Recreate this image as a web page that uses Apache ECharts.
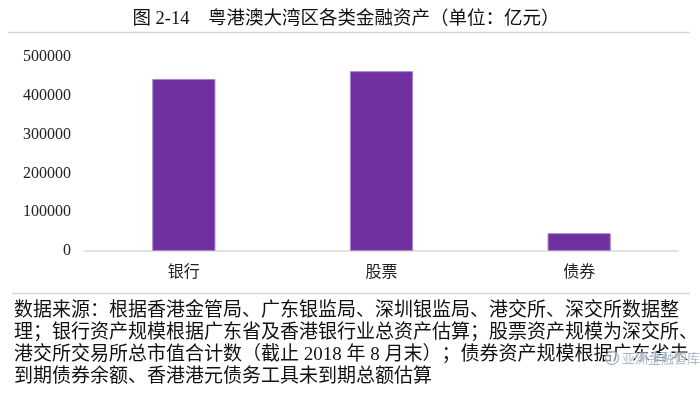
<!DOCTYPE html>
<html><head><meta charset="utf-8">
<script src="https://cdn.jsdelivr.net/npm/echarts@6/dist/echarts.min.js"></script>
<style>html,body{margin:0;padding:0;background:#fff}#c{width:700px;height:400px}</style>
</head><body><div id="c"></div>
<script>
var categories = ['银行', '股票', '债券'];
var values = [444000, 464000, 46000];
var yTicks = [0, 100000, 200000, 300000, 400000, 500000];
var titleText = '图 2-14\u3000粤港澳大湾区各类金融资产（单位：亿元）';
var footerLines = [
  '数据来源：根据香港金管局、广东银监局、深圳银监局、港交所、深交所数据整',
  '理；银行资产规模根据广东省及香港银行业总资产估算；股票资产规模为深交所、',
  '港交所交易所总市值合计数（截止 2018 年 8 月末）；债券资产规模根据广东省未',
  '到期债券余额、香港港元债务工具未到期总额估算'
];
var watermark = '亚洲金融智库';

var FONT = '"Times New Roman", "Liberation Serif", "Noto Sans CJK SC", serif';
var chart = echarts.init(document.getElementById('c'), null, {renderer: 'canvas'});
var graphics = [
  {type: 'text', x: 346, y: 19, style: {text: titleText, font: '18.5px ' + FONT, fill: '#111', align: 'center', verticalAlign: 'middle'}},
  {type: 'line', shape: {x1: 8, y1: 32.5, x2: 690, y2: 32.5}, style: {stroke: '#d6d6d6', lineWidth: 1.5}},
  {type: 'line', shape: {x1: 12, y1: 293.5, x2: 690, y2: 293.5}, style: {stroke: '#d6d6d6', lineWidth: 1.5}}
];
var lineY = [311, 333, 355, 377];
footerLines.forEach(function (t, i) {
  graphics.push({type: 'text', x: 14, y: lineY[i], z: 1, style: {text: t, font: '19px ' + FONT, fill: '#111', verticalAlign: 'middle'}});
});
graphics.push({type: 'circle', z: 20, shape: {cx: 612, cy: 358, r: 6.5}, style: {fill: 'rgba(255,255,255,0.5)', stroke: '#9fb3ca', lineWidth: 1.3}});
graphics.push({type: 'text', z: 20, x: 622, y: 358, style: {text: watermark, font: '13px "Noto Sans CJK SC", sans-serif', fill: '#a9bcd2', stroke: 'rgba(255,255,255,0.6)', lineWidth: 2, verticalAlign: 'middle'}});

chart.setOption({
  animation: false,
  grid: {left: 85, right: 22, top: 57.2, bottom: 149},
  xAxis: {
    type: 'category', data: categories,
    axisLine: {lineStyle: {color: '#d9d9d9', width: 1.5}},
    axisTick: {show: false},
    axisLabel: {margin: 14, fontSize: 16, color: '#222', fontFamily: FONT}
  },
  yAxis: {
    type: 'value', min: yTicks[0], max: yTicks[yTicks.length - 1], interval: yTicks[1] - yTicks[0],
    axisLine: {show: false}, axisTick: {show: false}, splitLine: {show: false},
    axisLabel: {margin: 14, fontSize: 16, color: '#222', fontFamily: FONT, formatter: function (v) { return String(v); }}
  },
  series: [{
    type: 'bar', data: values, barWidth: '32%',
    itemStyle: {color: '#7030A0', borderColor: '#a987cf', borderWidth: 1}
  }],
  graphic: graphics
});
</script></body></html>
